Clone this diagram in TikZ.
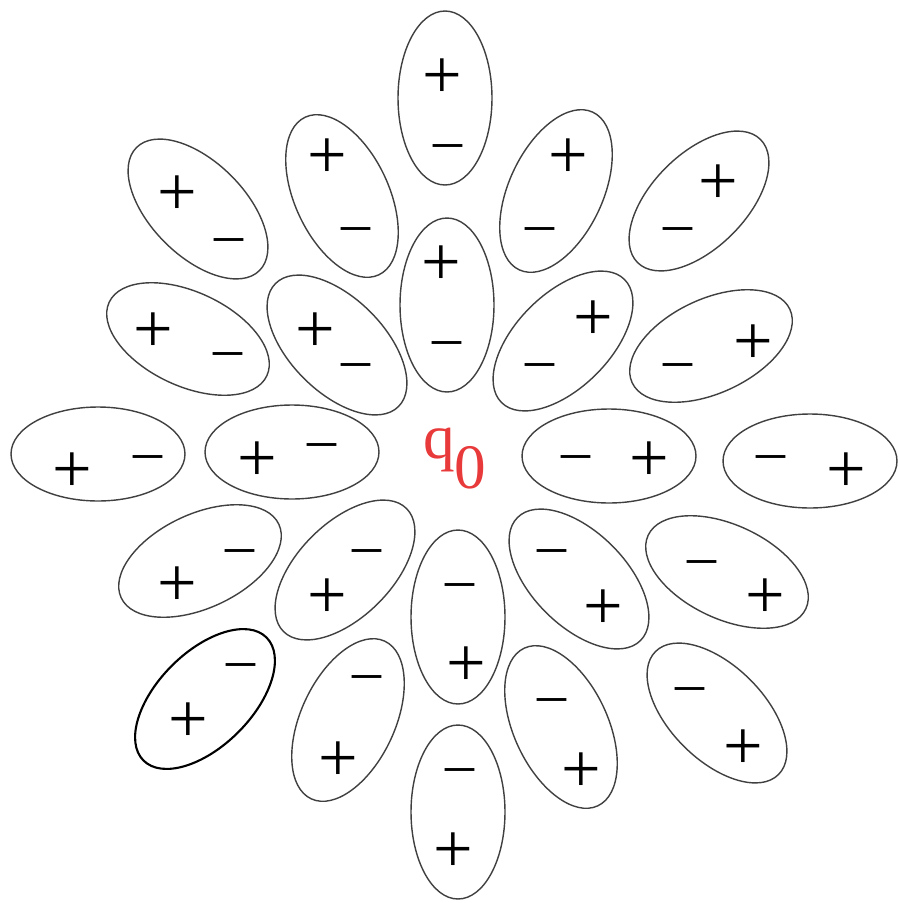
\documentclass[tikz,border=0pt]{standalone}
\usepackage{fontspec}
\setmainfont{Liberation Serif}
\usetikzlibrary{shapes.geometric}
\definecolor{rougeq}{RGB}{232,58,58}

\begin{document}
\begin{tikzpicture}[
    x=0.02cm, y=-0.02cm,
    dipole/.style={draw=black!75, line width=0.8pt, ellipse, inner sep=0pt,
        minimum width=1.88cm, minimum height=3.48cm},
    plus/.style={inner sep=0pt, yshift=-2.2pt, font=\fontsize{40}{40}\selectfont},
    moins/.style={inner sep=0pt, yshift=-4.4pt, font=\fontsize{33}{33}\selectfont},
]
\useasboundingbox (0,0) rectangle (897,903);

% Charge centrale
\node[anchor=base west, inner sep=0pt, text=rougeq, font=\fontsize{36}{36}\selectfont]
    (q0) at (423,458) {q\raisebox{-0.48em}{0}};

% Dipôles du haut
\node[dipole] (d1) at (445,98) {};
\node[plus] (p1) at (442,75) {+};
\node[moins] (m1) at (448,144) {--};
\node[dipole, rotate=25] (d2) at (342,196) {};
\node[plus] (p2) at (327,155) {+};
\node[moins] (m2) at (356,227) {--};
\node[dipole, rotate=45] (d3) at (198,209) {};
\node[plus] (p3) at (177,192) {+};
\node[moins] (m3) at (229,238) {--};
\node[dipole, rotate=-25] (d4) at (556,191) {};
\node[plus] (p4) at (568,155) {+};
\node[moins] (m4) at (540,227) {--};
\node[dipole, rotate=-45] (d5) at (699,201) {};
\node[plus] (p5) at (718,181) {+};
\node[moins] (m5) at (678,227) {--};

% Deuxième rangée
\node[dipole] (d6) at (447,305) {};
\node[plus] (p6) at (441,262) {+};
\node[moins] (m6) at (447,341) {--};
\node[dipole, rotate=45] (d7) at (337,345) {};
\node[plus] (p7) at (315,329) {+};
\node[moins] (m7) at (356,363) {--};
\node[dipole, rotate=65] (d8) at (188,339) {};
\node[plus] (p8) at (153,329) {+};
\node[moins] (m8) at (228,352) {--};
\node[dipole, rotate=-45] (d9) at (563,341) {};
\node[plus] (p9) at (593,317) {+};
\node[moins] (m9) at (540,363) {--};
\node[dipole, rotate=-65] (d10) at (711,346) {};
\node[plus] (p10) at (753,341) {+};
\node[moins] (m10) at (678,363) {--};

% Rangée du milieu
\node[dipole, rotate=90] (d11) at (98,454) {};
\node[plus] (p11) at (72,469) {+};
\node[moins] (m11) at (148,455) {--};
\node[dipole, rotate=90] (d12) at (292,452) {};
\node[plus] (p12) at (257,458) {+};
\node[moins] (m12) at (322,443) {--};
\node[dipole, rotate=90] (d13) at (609,456) {};
\node[moins] (m13) at (576,455) {--};
\node[plus] (p13) at (649,458) {+};
\node[dipole, rotate=90] (d14) at (810,461) {};
\node[moins] (m14) at (771,455) {--};
\node[plus] (p14) at (846,469) {+};

% Quatrième rangée
\node[dipole, rotate=-65] (d15) at (200,561) {};
\node[plus] (p15) at (177,583) {+};
\node[moins] (m15) at (240,549) {--};
\node[dipole, rotate=-45] (d16) at (345,570) {};
\node[plus] (p16) at (327,595) {+};
\node[moins] (m16) at (367,549) {--};
\node[dipole] (d17) at (458,617) {};
\node[moins] (m17) at (460,583) {--};
\node[plus] (p17) at (466,663) {+};
\node[dipole, rotate=45] (d18) at (579,579) {};
\node[moins] (m18) at (552,549) {--};
\node[plus] (p18) at (603,606) {+};
\node[dipole, rotate=65] (d19) at (727,572) {};
\node[moins] (m19) at (702,560) {--};
\node[plus] (p19) at (765,595) {+};

% Dipôles du bas
\node[dipole, rotate=-45, draw=black, line width=1.2pt] (d20) at (205,699) {};
\node[plus] (p20) at (188,719) {+};
\node[moins] (m20) at (241,663) {--};
\node[dipole, rotate=-25] (d21) at (348,720) {};
\node[plus] (p21) at (338,758) {+};
\node[moins] (m21) at (367,675) {--};
\node[dipole] (d22) at (458,812) {};
\node[moins] (m22) at (460,768) {--};
\node[plus] (p22) at (453,849) {+};
\node[dipole, rotate=25] (d23) at (561,727) {};
\node[moins] (m23) at (552,698) {--};
\node[plus] (p23) at (581,769) {+};
\node[dipole, rotate=45] (d24) at (717,713) {};
\node[moins] (m24) at (690,687) {--};
\node[plus] (p24) at (743,746) {+};

\end{tikzpicture}
\end{document}
